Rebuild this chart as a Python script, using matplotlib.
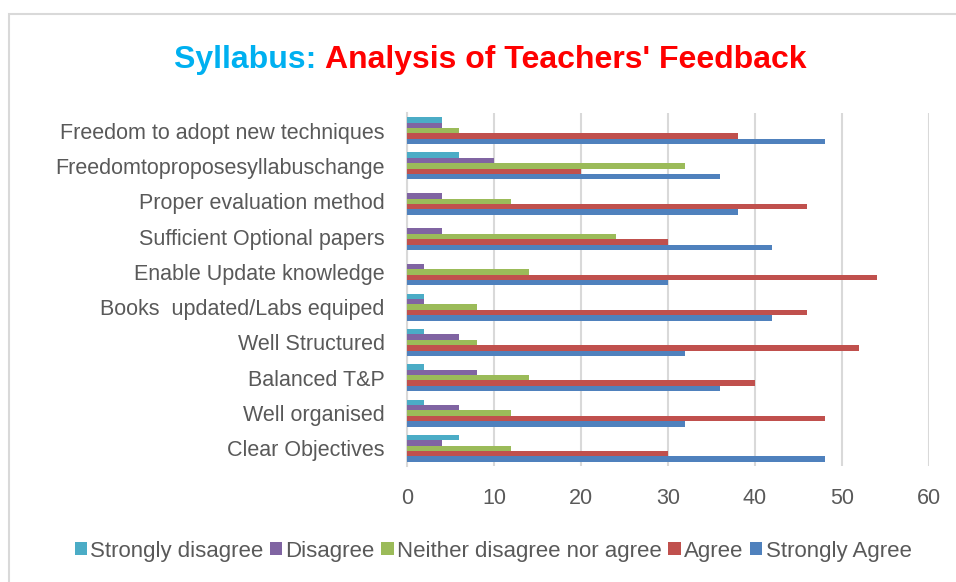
import matplotlib

matplotlib.use("Agg")

import matplotlib.pyplot as plt
import numpy as np
from matplotlib.patches import Rectangle

plt.rcParams["font.family"] = ["Liberation Sans", "DejaVu Sans"]

categories = [
    "Clear Objectives",
    "Well organised",
    "Balanced T&P",
    "Well Structured",
    "Books  updated/Labs equiped",
    "Enable Update knowledge",
    "Sufficient Optional papers",
    "Proper evaluation method",
    "Freedomtoproposesyllabuschange",
    "Freedom to adopt new techniques",
]
strongly_agree = [48, 32, 36, 32, 42, 30, 42, 38, 36, 48]
agree = [30, 48, 40, 52, 46, 54, 30, 46, 20, 38]
neither = [12, 12, 14, 8, 8, 14, 24, 12, 32, 6]
disagree = [4, 6, 8, 6, 2, 2, 4, 4, 10, 4]
strongly_disagree = [6, 2, 2, 2, 2, 0, 0, 0, 6, 4]

series = [
    ("Strongly Agree", strongly_agree, "#4F81BD"),
    ("Agree", agree, "#C0504D"),
    ("Neither disagree nor agree", neither, "#9BBB59"),
    ("Disagree", disagree, "#8064A2"),
    ("Strongly disagree", strongly_disagree, "#4BACC6"),
]

fs = 15.5
fig = plt.figure(figsize=(9.56, 5.82), dpi=100)
fig.patches.append(Rectangle((9 / 956, -0.1), 1.2, 1 - 14 / 582 + 0.1,
                             transform=fig.transFigure, fill=False,
                             edgecolor="#D9D9D9", linewidth=1.5))
ax = fig.add_axes([407 / 956, 1 - 466 / 582, (929 - 407) / 956, (466 - 113) / 582])

y = np.arange(len(categories))
h = 0.153
handles = {}
for i, (name, vals, color) in enumerate(series):
    bars = ax.barh(y + (i - 2) * h, vals, height=h, color=color, zorder=3)
    handles[name] = bars

ax.set_xlim(0, 60)
ax.set_ylim(-0.5, len(categories) - 0.5)
ax.set_xticks(range(0, 61, 10))
ax.set_yticks(y)
ax.set_yticklabels(categories)
ax.tick_params(axis="both", length=0, labelsize=fs, labelcolor="#595959")
ax.tick_params(axis="x", pad=16)
ax.tick_params(axis="y", pad=16)
ax.grid(axis="x", color="#D9D9D9", linewidth=1.5, zorder=0)
for side in ["top", "right", "bottom"]:
    ax.spines[side].set_visible(False)
ax.spines["left"].set_color("#D9D9D9")
ax.spines["left"].set_linewidth(1.5)

order = ["Strongly disagree", "Disagree", "Neither disagree nor agree", "Agree", "Strongly Agree"]
fig.legend([handles[n] for n in order], order,
           loc="center", bbox_to_anchor=(493 / 956, 1 - 551 / 582), ncol=5, frameon=False,
           fontsize=16, labelcolor="#595959", handlelength=0.55, handleheight=0.55,
           handletextpad=0.15, columnspacing=0.3)

# two-colour title
tfs = 23
t1 = fig.text(0, 1 - 60 / 582, "Syllabus: ", color="#00B0F0", fontsize=tfs,
              fontweight="bold", va="center", ha="left")
t2 = fig.text(0, 1 - 60 / 582, "Analysis of Teachers' Feedback", color="#FF0000",
              fontsize=tfs, fontweight="bold", va="center", ha="left")
r = fig.canvas.get_renderer()
w1 = t1.get_window_extent(r).width
w2 = t2.get_window_extent(r).width
x0 = 490 - (w1 + w2) / 2
t1.set_x(x0 / 956)
t2.set_x((x0 + w1) / 956)

fig.savefig("out.png", dpi=100)
